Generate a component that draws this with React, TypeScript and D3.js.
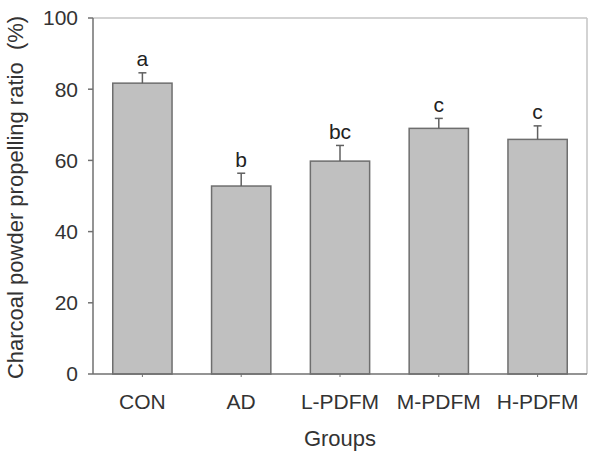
import React from "react";
import * as d3 from "d3";

const categories = ["CON", "AD", "L-PDFM", "M-PDFM", "H-PDFM"];
const means = [81.7, 52.8, 59.8, 69.0, 65.9];
const upperErr = [84.6, 56.4, 64.2, 71.8, 69.7];
const letters = ["a", "b", "bc", "c", "c"];
const yTicks = [0, 20, 40, 60, 80, 100];

const W = 600;
const H = 466;
const left = 93;
const right = 587;
const top = 18;
const bottom = 374;
const FONT = "'Liberation Sans', Arial, sans-serif";

export default function App() {
  const x = d3.scaleBand<string>().domain(categories).range([left, right]).paddingInner(0.4).paddingOuter(0.2);
  const y = d3.scaleLinear().domain([0, 100]).range([bottom, top]);
  const bw = x.bandwidth();

  return (
    <svg
      width={W}
      height={H}
      style={{ position: "absolute", left: 0, top: 0, background: "#fff" }}
      fontFamily={FONT}
    >
      {/* frame top/right */}
      <line x1={left} x2={right} y1={top} y2={top} stroke="#c4c4c4" strokeWidth={1.5} />
      <line x1={right} x2={right} y1={top} y2={bottom} stroke="#c4c4c4" strokeWidth={1.5} />

      {/* bars */}
      {categories.map((c, i) => (
        <rect
          key={c}
          x={x(c)}
          y={y(means[i])}
          width={bw}
          height={y(0) - y(means[i])}
          fill="#c0c0c0"
          stroke="#6e6e6e"
          strokeWidth={1.5}
        />
      ))}

      {/* error bars */}
      {categories.map((c, i) => {
        const cx = (x(c) as number) + bw / 2;
        return (
          <g key={c + "e"} stroke="#606060" strokeWidth={1.5}>
            <line x1={cx} x2={cx} y1={y(means[i])} y2={y(upperErr[i])} />
            <line x1={cx - 4} x2={cx + 4} y1={y(upperErr[i])} y2={y(upperErr[i])} />
          </g>
        );
      })}

      {/* significance letters */}
      {categories.map((c, i) => (
        <text
          key={c + "l"}
          x={(x(c) as number) + bw / 2}
          y={y(upperErr[i]) - 6.5}
          textAnchor="middle"
          fontSize={21}
          fill="#222"
        >
          {letters[i]}
        </text>
      ))}

      {/* axes */}
      <line x1={left} x2={left} y1={top} y2={bottom} stroke="#707070" strokeWidth={1.5} />
      <line x1={left} x2={right} y1={bottom} y2={bottom} stroke="#707070" strokeWidth={1.5} />

      {yTicks.map((t) => (
        <g key={t}>
          <line x1={left - 5} x2={left} y1={y(t)} y2={y(t)} stroke="#707070" strokeWidth={1.5} />
          <text x={left - 15} y={y(t)} dy="0.35em" textAnchor="end" fontSize={21} fill="#333">
            {t}
          </text>
        </g>
      ))}

      {categories.map((c) => {
        const cx = (x(c) as number) + bw / 2;
        return (
          <g key={c + "t"}>
            <line x1={cx} x2={cx} y1={bottom} y2={bottom + 3} stroke="#707070" strokeWidth={1} />
            <text x={cx} y={409} textAnchor="middle" fontSize={21} fill="#333">
              {c}
            </text>
          </g>
        );
      })}

      <text x={(left + right) / 2} y={446} textAnchor="middle" fontSize={22} fill="#333">
        Groups
      </text>
      <text
        transform={`translate(23,${(13 + 382) / 2}) rotate(-90)`}
        textAnchor="middle"
        fontSize={22}
        fill="#333"
        style={{ whiteSpace: "pre" }}
      >
        {"Charcoal powder propelling ratio  (%)"}
      </text>
    </svg>
  );
}
